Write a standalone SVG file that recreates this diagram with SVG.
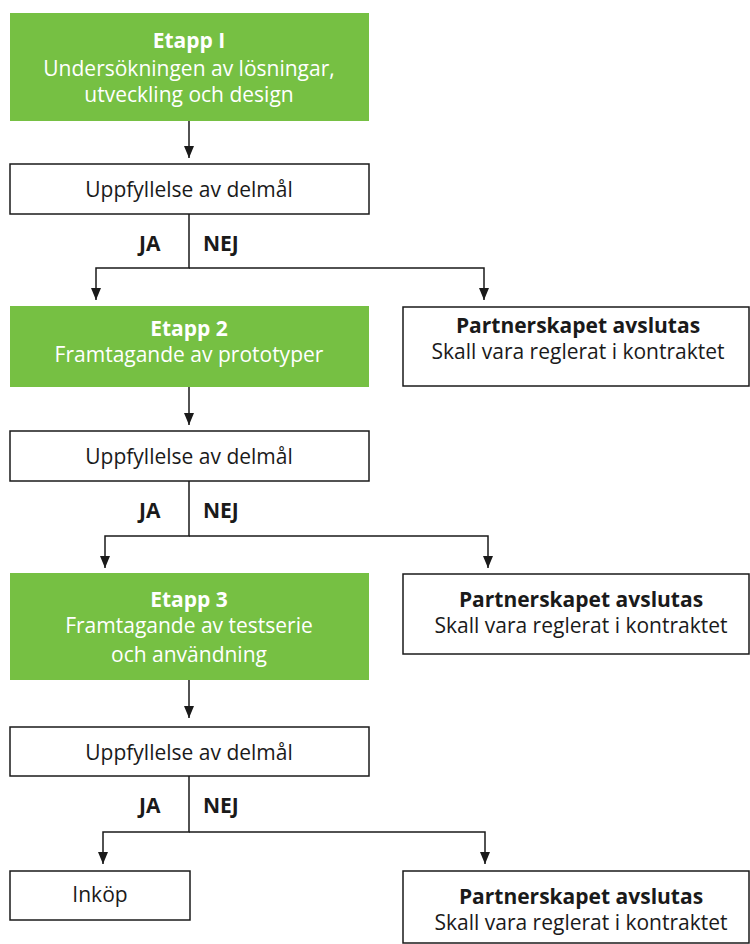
<svg xmlns="http://www.w3.org/2000/svg" width="750" height="944" viewBox="0 0 750 944">
<style>
.green{fill:#76c043;}
.box{fill:#fff;stroke:#1a1a1a;stroke-width:1.5;}
text{font-family:"Open Sans","Noto Sans","Liberation Sans",sans-serif;font-size:21px;text-anchor:middle;fill:#1a1a1a;}
.w{fill:#fff;}
.b{font-weight:bold;}
.lbl{font-weight:bold;text-anchor:start;font-size:21px;}
.con{fill:none;stroke:#1a1a1a;stroke-width:1.5;}
</style>
<defs>
<marker id="ah" viewBox="0 0 10 10" refX="10" refY="5" markerWidth="12" markerHeight="10" preserveAspectRatio="none" markerUnits="userSpaceOnUse" orient="auto">
<path d="M0,0 L10,5 L0,10 z" fill="#1a1a1a"/>
</marker>
</defs>
<rect width="750" height="944" fill="#fff"/>

<g id="connectors">
<line class="con" x1="189" y1="121" x2="189" y2="158" marker-end="url(#ah)"/>
<polyline class="con" points="189,214 189,268 96,268 96,300" marker-end="url(#ah)"/>
<polyline class="con" points="189,268 484,268 484,300" marker-end="url(#ah)"/>
<line class="con" x1="189" y1="387" x2="189" y2="425" marker-end="url(#ah)"/>
<polyline class="con" points="189,481 189,536 105,536 105,568" marker-end="url(#ah)"/>
<polyline class="con" points="189,536 488,536 488,568" marker-end="url(#ah)"/>
<line class="con" x1="189" y1="680" x2="189" y2="718" marker-end="url(#ah)"/>
<polyline class="con" points="189,776 189,832 103,832 103,864" marker-end="url(#ah)"/>
<polyline class="con" points="189,832 485,832 485,864" marker-end="url(#ah)"/>
<text class="lbl" x="139" y="251">JA</text>
<text class="lbl" x="203" y="251">NEJ</text>
<text class="lbl" x="139" y="518">JA</text>
<text class="lbl" x="203" y="518">NEJ</text>
<text class="lbl" x="139" y="813">JA</text>
<text class="lbl" x="203" y="813">NEJ</text>
</g>

<g id="etapp1">
<rect class="green" x="10" y="13" width="359" height="108"/>
<text class="w b" x="189" y="48">Etapp I</text>
<text class="w" x="189" y="76">Undersökningen av lösningar,</text>
<text class="w" x="189" y="102">utveckling och design</text>
</g>

<g id="delmal1">
<rect class="box" x="10" y="164" width="359" height="50"/>
<text x="189" y="197">Uppfyllelse av delmål</text>
</g>

<g id="etapp2">
<rect class="green" x="10" y="306" width="359" height="81"/>
<text class="w b" x="189" y="336">Etapp 2</text>
<text class="w" x="189" y="362">Framtagande av prototyper</text>
</g>

<g id="avslut1">
<rect class="box" x="403" y="307" width="346" height="79"/>
<text class="b" x="578" y="333">Partnerskapet avslutas</text>
<text x="578" y="359">Skall vara reglerat i kontraktet</text>
</g>

<g id="delmal2">
<rect class="box" x="10" y="431" width="359" height="50"/>
<text x="189" y="464">Uppfyllelse av delmål</text>
</g>

<g id="etapp3">
<rect class="green" x="10" y="573" width="359" height="107"/>
<text class="w b" x="189" y="607">Etapp 3</text>
<text class="w" x="189" y="633">Framtagande av testserie</text>
<text class="w" x="189" y="662">och användning</text>
</g>

<g id="avslut2">
<rect class="box" x="403" y="574" width="346" height="80"/>
<text class="b" x="581" y="607">Partnerskapet avslutas</text>
<text x="581" y="633">Skall vara reglerat i kontraktet</text>
</g>

<g id="delmal3">
<rect class="box" x="10" y="727" width="359" height="49"/>
<text x="189" y="760">Uppfyllelse av delmål</text>
</g>

<g id="inkop">
<rect class="box" x="10" y="871" width="180" height="49"/>
<text x="100" y="902">Inköp</text>
</g>

<g id="avslut3">
<rect class="box" x="403" y="871" width="346" height="72"/>
<text class="b" x="581" y="904">Partnerskapet avslutas</text>
<text x="581" y="930">Skall vara reglerat i kontraktet</text>
</g>
</svg>
